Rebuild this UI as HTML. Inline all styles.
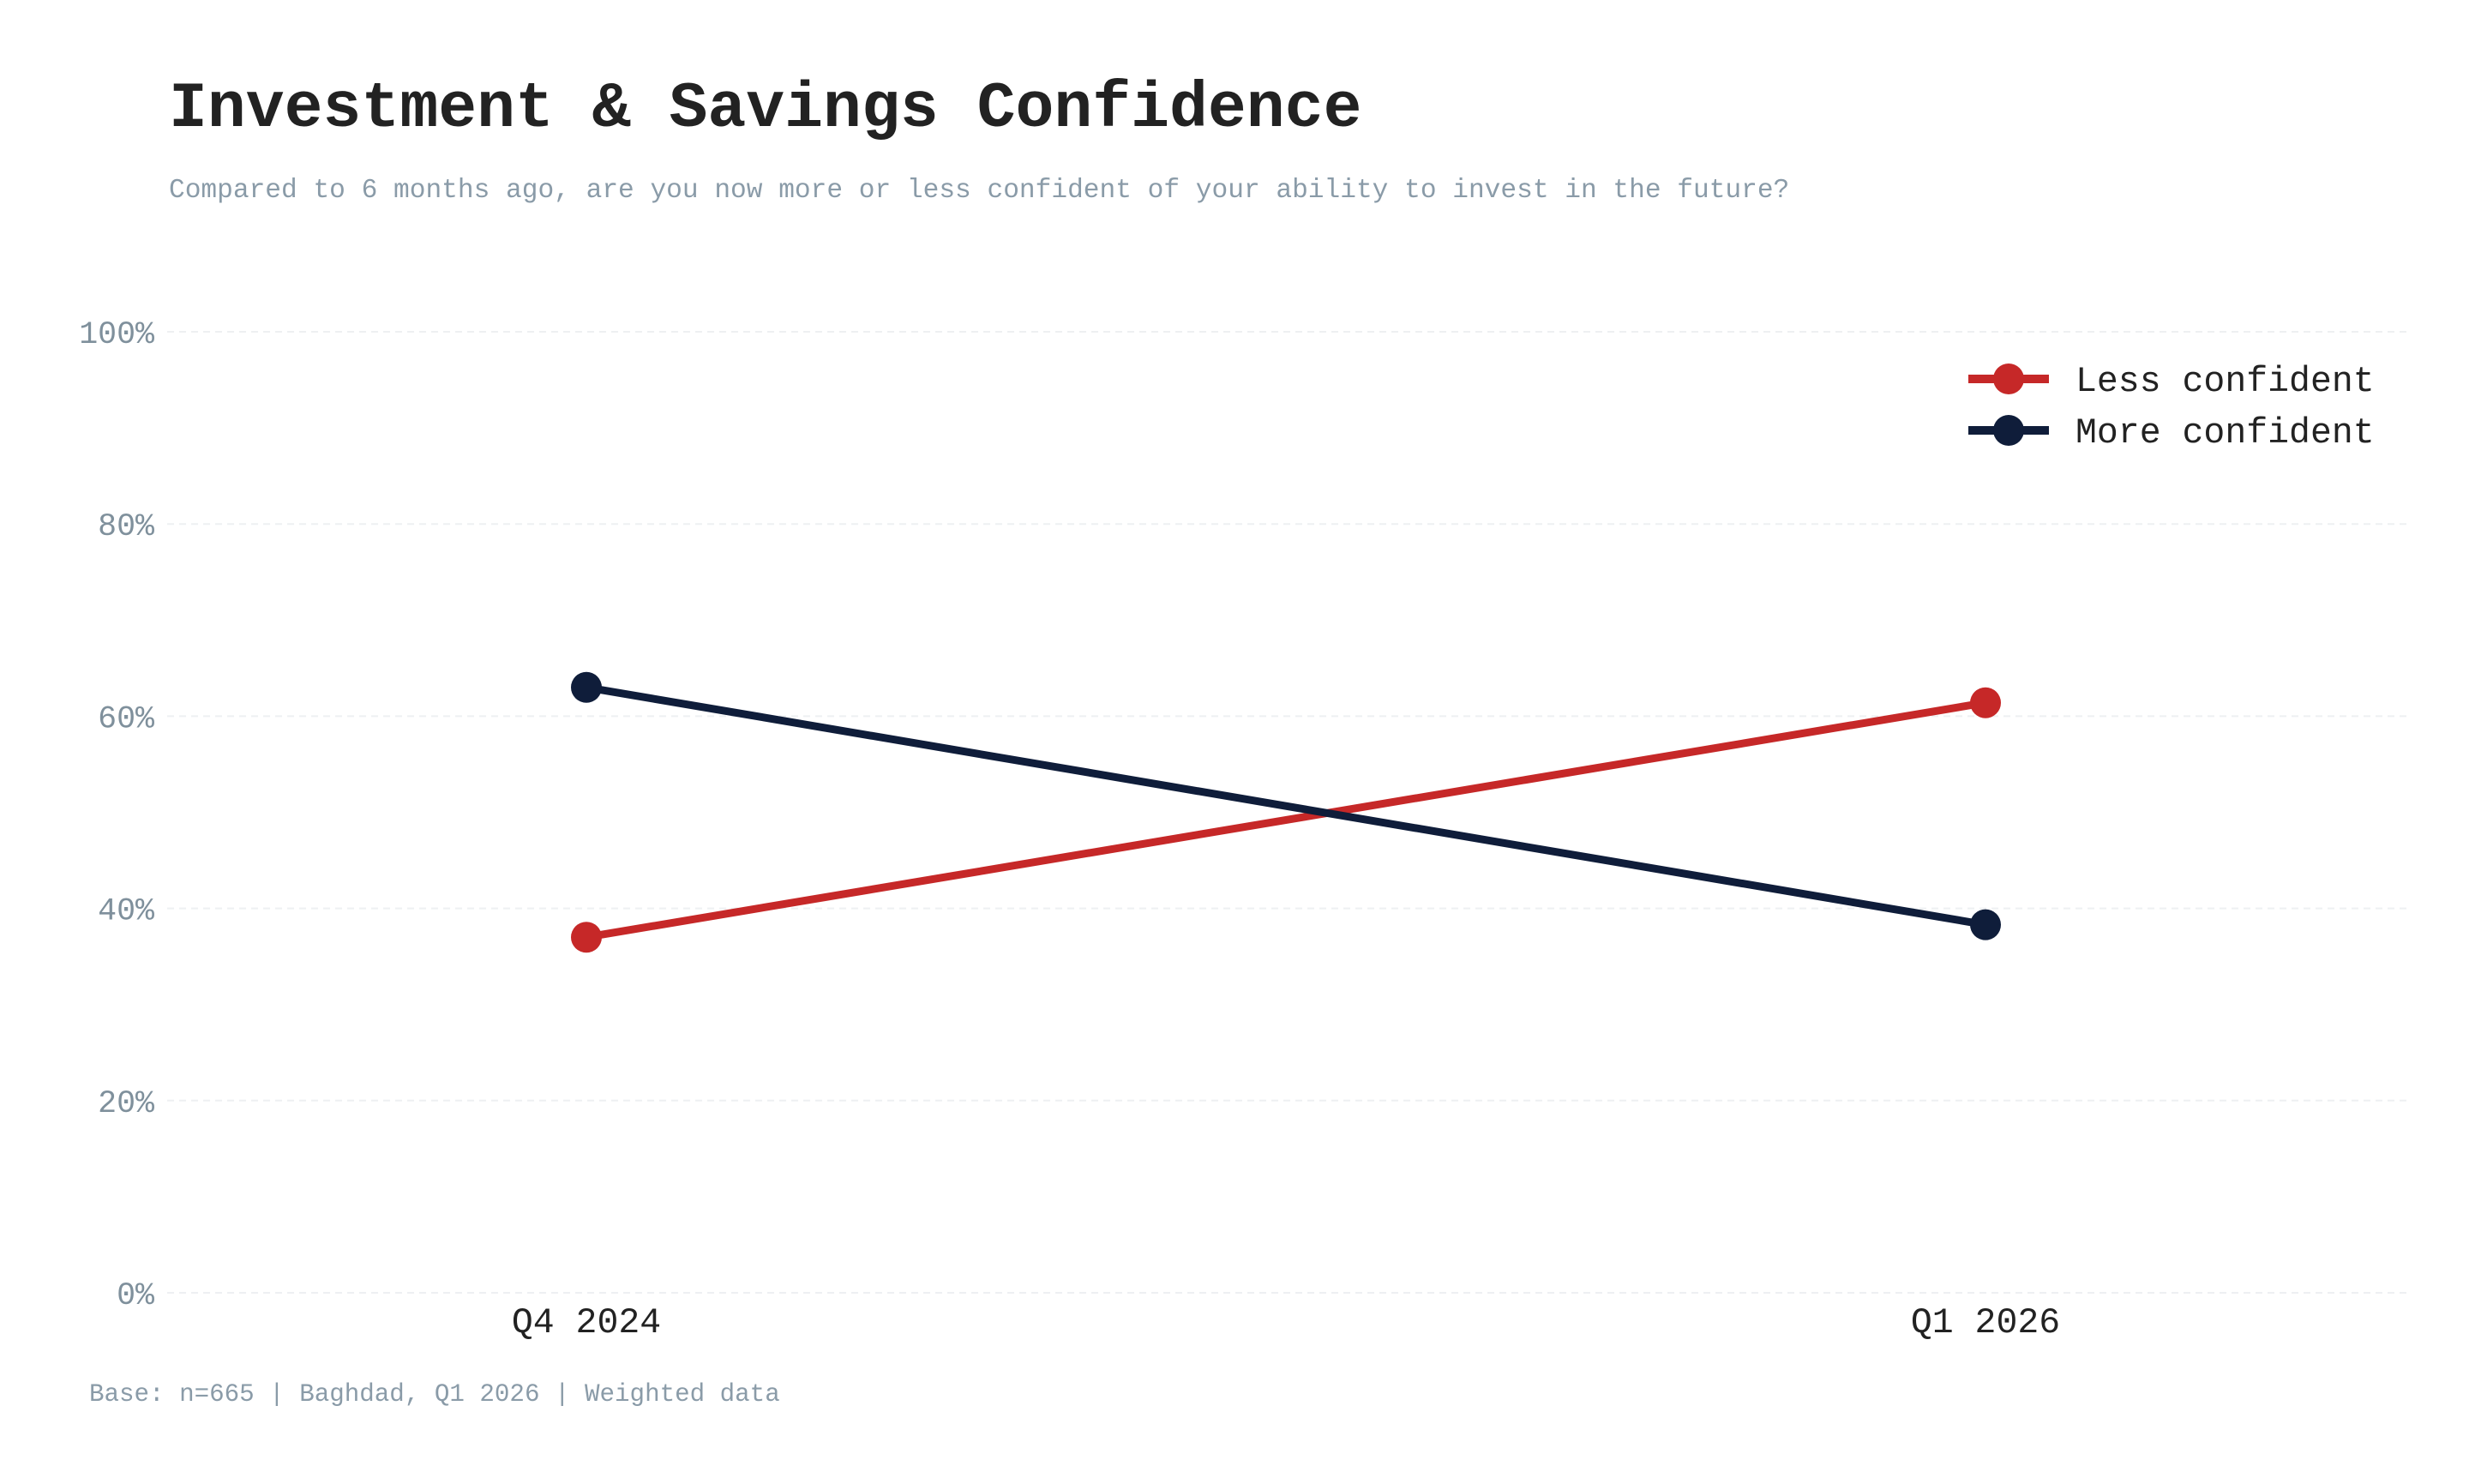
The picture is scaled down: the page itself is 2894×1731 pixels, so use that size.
<!DOCTYPE html>
<html><head><meta charset="utf-8">
<style>
html,body{margin:0;padding:0;background:#fff;}
body{width:2894px;height:1731px;overflow:hidden;}
svg{display:block;}
text{font-family:"Liberation Mono",monospace;}
</style></head>
<body>
<svg id="chart" width="2894" height="1731" viewBox="0 0 2894 1731">
  <text x="197" y="147" font-size="74.8" font-weight="bold" fill="#222">Investment &amp; Savings Confidence</text>
  <text x="197" y="230" font-size="31.2" fill="#8a9ba8">Compared to 6 months ago, are you now more or less confident of your ability to invest in the future?</text>
  <text x="104" y="1634" font-size="29.2" fill="#8a9ba8">Base: n=665 | Baghdad, Q1 2026 | Weighted data</text>
  <g id="grid"></g>
  <g id="series"></g>
  <g id="legend"></g>
</svg>
<script>
const categories = ["Q4 2024", "Q1 2026"];
const lessConfident = [37.0, 61.4];
const moreConfident = [63.0, 38.3];
const yTicks = [0, 20, 40, 60, 80, 100];
const seriesNames = ["Less confident", "More confident"];

const NS = "http://www.w3.org/2000/svg";
const plot = {left:195, right:2810, top:387, bottom:1508};
const xPos = [684, 2316];
function x(i){ return xPos[0] + (xPos[1]-xPos[0]) * i / (categories.length-1); }
function y(v){ return plot.bottom - (plot.bottom-plot.top) * v / 100; }
function mk(tag, attrs){ const e=document.createElementNS(NS,tag); for(const k in attrs) e.setAttribute(k,attrs[k]); return e; }

const grid = document.getElementById('grid');
yTicks.forEach(t=>{
  const l = mk('line',{x1:plot.left,x2:plot.right,y1:y(t),y2:y(t),stroke:'#eef0f2','stroke-width':2,'stroke-dasharray':'8,6'});
  
  
  grid.appendChild(l);
  const tx = mk('text',{x:180,y:y(t)+13,'text-anchor':'end','font-size':36.6,fill:'#7f909c'});
  tx.textContent = t+'%';
  
  
  grid.appendChild(tx);
});
categories.forEach((c,i)=>{
  const tx = mk('text',{x:x(i),y:1554,'text-anchor':'middle','font-size':41.5,fill:'#222'});
  tx.textContent = c;
  
  
  grid.appendChild(tx);
});

const series = document.getElementById('series');
const colors = ["#c62828", "#0f1d3a"];
[lessConfident, moreConfident].forEach((vals,s)=>{
  const g = mk('g',{});
  
  
  const pts = vals.map((v,i)=>x(i)+','+y(v)).join(' ');
  const pl = mk('polyline',{points:pts,fill:'none',stroke:colors[s],'stroke-width':9});
  
  
  g.appendChild(pl);
  vals.forEach((v,i)=>{
    const c = mk('circle',{cx:x(i),cy:y(v),r:18,fill:colors[s]});
    
    
    g.appendChild(c);
  });
  series.appendChild(g);
});

const legend = document.getElementById('legend');
seriesNames.forEach((n,s)=>{
  const ly = 442 + s*60;
  const g = mk('g',{});
  
  
  g.appendChild(mk('line',{x1:2296,x2:2390,y1:ly,y2:ly,stroke:colors[s],'stroke-width':10}));
  g.appendChild(mk('circle',{cx:2343,cy:ly,r:18,fill:colors[s]}));
  const t = mk('text',{x:2421,y:ly+14,'font-size':41.5,fill:'#222'});
  t.textContent = n;
  g.appendChild(t);
  legend.appendChild(g);
});
</script>
</body></html>
